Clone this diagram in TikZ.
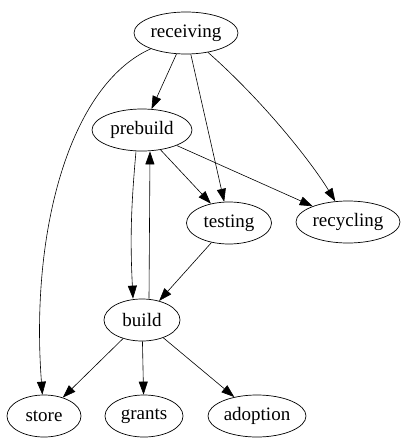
\documentclass[tikz,border=0pt]{standalone}
\usepackage{fontspec}
\setmainfont{Liberation Serif}
\usepackage{tikz}
\usetikzlibrary{arrows.meta,shapes.geometric}

\begin{document}
\begin{tikzpicture}[x=1pt,y=-1pt,
  every node/.style={font=\fontsize{19}{21}\selectfont},
  gnode/.style={ellipse, draw, line width=0.7pt, inner sep=0pt, minimum height=42pt},
  edge/.style={line width=0.6pt, -{Triangle[length=13pt,width=9pt]}}]
  \useasboundingbox (0,0) rectangle (407,447);
  % nodes
  \node[gnode, minimum width=104pt] (receiving) at (186,33) {receiving};
  \node[gnode, minimum width=100pt] (prebuild) at (142,130) {prebuild};
  \node[gnode, minimum width=85pt] (testing) at (229,223) {testing};
  \node[gnode, minimum width=104pt] (recycling) at (348,222) {recycling};
  \node[gnode, minimum width=76pt] (build) at (142,320) {build};
  \node[gnode, minimum width=74pt] (store) at (44,416) {store};
  \node[gnode, minimum width=78pt] (grants) at (144,416) {grants};
  \node[gnode, minimum width=98pt] (adoption) at (257,416) {adoption};
  % edges
  \draw[edge] (receiving) -- (prebuild);
  \draw[edge] (receiving) -- (testing);
  \draw[edge] (receiving) .. controls (262,100) and (310,160) .. (recycling);
  \draw[edge] (receiving) .. controls (70,85) and (30,230) .. (store);
  \draw[edge] (prebuild) -- (testing);
  \draw[edge] (prebuild) -- (recycling);
  \draw[edge] ([xshift=-6pt]prebuild.south) to[bend right=4] ([xshift=-9pt]build.north);
  \draw[edge] ([xshift=7pt]build.north) -- ([xshift=8pt]prebuild.south);
  \draw[edge] (testing) -- (build);
  \foreach \t in {store,grants,adoption} \draw[edge] (build) -- (\t);
\end{tikzpicture}
\end{document}
